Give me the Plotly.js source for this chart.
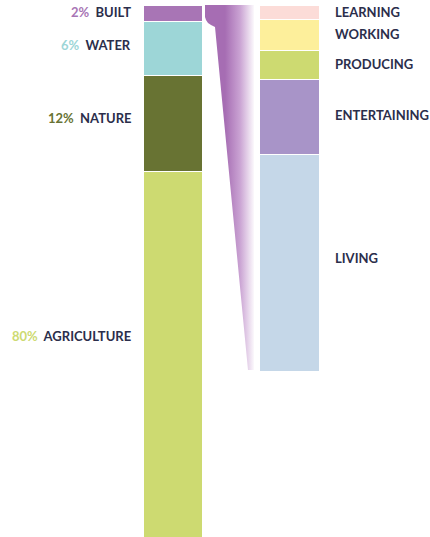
<!DOCTYPE html>
<html><head><meta charset="utf-8">
<script src="https://cdn.plot.ly/plotly-3.0.1.min.js"></script>
<style>html,body{margin:0;padding:0;background:#fff;}#chart{width:430px;height:537px;}</style>
</head><body><div id="chart"></div>
<script>
// Land use (left bar)
const landCategories = ['BUILT', 'WATER', 'NATURE', 'AGRICULTURE'];
const landPercents = ['2%', '6%', '12%', '80%'];
const landHeights = [16, 54, 96, 366];          // segment sizes as drawn in the picture
const landColors = ['#a875b5', '#9dd6d7', '#687333', '#cdda71'];

// Built-land use (right bar)
const builtCategories = ['LEARNING', 'WORKING', 'PRODUCING', 'ENTERTAINING', 'LIVING'];
const builtHeights = [14, 31, 29, 75, 217];
const builtColors = ['#fcdcd8', '#fdef9b', '#cdda71', '#a894c8', '#c5d7e8'];

const textColor = '#2b2e4b';
const font = 'Lato, "Open Sans", sans-serif';

// layout geometry (pixel-like units on the axes)
const W = 430, H = 537, topPad = 5;
const leftX = 172.5, leftW = 59;
const rightX = 289, rightW = 60;

const traces = [];
landCategories.forEach((c, i) => {
  traces.push({type: 'bar', x: [leftX], y: [landHeights[i]], width: [leftW],
    marker: {color: landColors[i], line: {color: '#ffffff', width: 1}},
    hoverinfo: 'skip', showlegend: false, name: c});
});
builtCategories.forEach((c, i) => {
  traces.push({type: 'bar', x: [rightX], y: [builtHeights[i]], width: [rightW],
    marker: {color: builtColors[i], line: {color: '#ffffff', width: 1}},
    hoverinfo: 'skip', showlegend: false, name: c});
});

// funnel from BUILT segment to the right bar
const lEdge = leftX + leftW / 2 + 3;
const rEdge = rightX - rightW / 2 - 5;
const bH = landHeights[0];
const rTotal = builtHeights.reduce((a, b) => a + b, 0);
const fx = [lEdge, lEdge, lEdge + 1, lEdge + 3, lEdge + 6, lEdge + 10, rEdge - 6, rEdge, rEdge, lEdge];
const fy = [0, bH - 4, bH - 1, bH + 2, bH + 4, bH + 6, rTotal - 1, rTotal - 1, 0, 0];
traces.push({type: 'scatter', mode: 'lines', x: fx, y: fy, fill: 'toself',
  line: {width: 0, color: 'rgba(0,0,0,0)'},
  fillgradient: {type: 'horizontal', start: lEdge + 20, stop: rEdge + 1,
    colorscale: [[0, '#a66db3'], [0.5, '#caa3d3'], [1, '#ffffff']]},
  hoverinfo: 'skip', showlegend: false});

const annotations = [];
let acc = 0;
landCategories.forEach((c, i) => {
  const y = acc + landHeights[i] * 0.45;
  acc += landHeights[i];
  annotations.push({x: leftX - leftW / 2 - 10, y: y, xref: 'x', yref: 'y', xanchor: 'right', yanchor: 'middle',
    showarrow: false, font: {family: font, size: 13, color: textColor, weight: 700},
    text: '<span style="color:' + landColors[i] + '">' + landPercents[i] + '</span>&nbsp;&nbsp;' + c});
});
acc = 0;
builtCategories.forEach((c, i) => {
  const y = acc + builtHeights[i] * 0.48;
  acc += builtHeights[i];
  annotations.push({x: rightX + rightW / 2 + 14, y: y, xref: 'x', yref: 'y', xanchor: 'left', yanchor: 'middle',
    showarrow: false, font: {family: font, size: 13, color: textColor, weight: 700}, text: c});
});

const ax = {showgrid: false, zeroline: false, showticklabels: false, showline: false, ticks: '', fixedrange: true};
const layout = {
  width: W, height: H, margin: {l: 0, r: 0, t: 0, b: 0},
  paper_bgcolor: '#ffffff', plot_bgcolor: '#ffffff',
  barmode: 'stack', bargap: 0,
  xaxis: Object.assign({range: [0, W]}, ax),
  yaxis: Object.assign({range: [H - topPad, -topPad]}, ax),
  annotations: annotations, showlegend: false
};
Plotly.newPlot('chart', traces, layout, {displayModeBar: false, staticPlot: true});
</script></body></html>
